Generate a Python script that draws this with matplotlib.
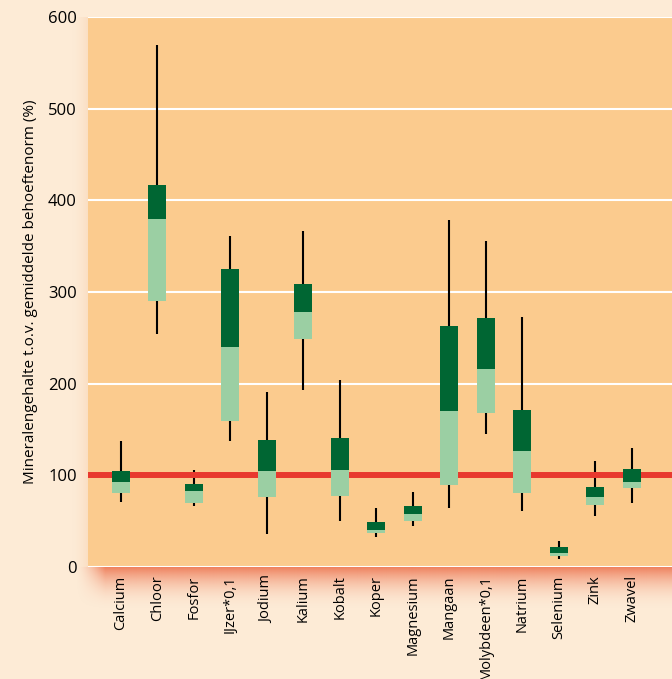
import numpy as np
import matplotlib
matplotlib.use('Agg')
import matplotlib.pyplot as plt
from matplotlib.colors import to_rgb

# data
mineralen = ['Calcium', 'Chloor', 'Fosfor', 'IJzer*0,1', 'Jodium', 'Kalium', 'Kobalt',
             'Koper', 'Magnesium', 'Mangaan', 'Molybdeen*0,1', 'Natrium', 'Selenium',
             'Zink', 'Zwavel']
minimum = [71, 254, 67, 137, 36, 193, 50, 33, 45, 64, 145, 61, 9, 56, 70]
kwartiel1 = [81, 290, 70, 159, 76, 249, 77, 37, 50, 89, 168, 81, 12, 68, 86]
mediaan = [93, 380, 83, 240, 105, 278, 106, 40, 58, 170, 216, 127, 15, 76, 93]
kwartiel3 = [105, 417, 91, 325, 139, 309, 141, 49, 67, 263, 272, 171, 22, 87, 107]
maximum = [137, 569, 106, 361, 191, 367, 204, 64, 82, 379, 356, 273, 28, 116, 130]
norm = 100

bg = '#fdebd6'
face = '#fbcb8e'
donker = '#006633'
licht = '#9bcfa3'
rood = '#e8392e'

plt.rcParams['font.family'] = ['Open Sans', 'DejaVu Sans']

fig = plt.figure(figsize=(6.72, 6.79), dpi=100, facecolor=bg)
W, H = 672, 679

# schaduw onder de grafiek (verloop, links zachter)
grad = fig.add_axes([75 / W, (H - 612) / H, 597 / W, 45 / H])
grad.set_zorder(0)
g = np.zeros((90, 600, 4))
g[:, :, :3] = to_rgb('#ee7c58')
verticaal = np.linspace(1.0, 0.0, 90)[:, None] ** 2.2
horizontaal = np.clip(np.linspace(0, 600 / 30, 600), 0, 1)[None, :] ** 1.5
g[:, :, 3] = verticaal * horizontaal * 0.95
grad.imshow(g, aspect='auto', extent=(0, 1, 0, 1), interpolation='bilinear')
grad.axis('off')

# schaduw links van de grafiek
grad2 = fig.add_axes([70 / W, (H - 567) / H, 18 / W, 550 / H])
grad2.set_zorder(0)
g2 = np.zeros((2, 100, 4))
g2[:, :, :3] = to_rgb('#f4b98a')
g2[:, :, 3] = np.linspace(0.0, 0.5, 100)[None, :] ** 2
grad2.imshow(g2, aspect='auto', extent=(0, 1, 0, 1))
grad2.axis('off')

ax = fig.add_axes([88 / W, (H - 567) / H, 584 / W, 550 / H])
ax.set_zorder(1)
ax.set_facecolor(face)

x = np.arange(len(mineralen))
breedte = 0.5

# whiskers
ax.vlines(x, minimum, maximum, color='black', linewidth=1.5, zorder=2)
# norm lijn
ax.axhline(norm, color=rood, linewidth=4.3, zorder=2.5)
# boxen: licht (Q1-mediaan), donker (mediaan-Q3)
ax.bar(x, np.array(mediaan) - np.array(kwartiel1), bottom=kwartiel1, width=breedte,
       color=licht, zorder=3)
ax.bar(x, np.array(kwartiel3) - np.array(mediaan), bottom=mediaan, width=breedte,
       color=donker, zorder=3)

ax.set_xlim(-0.9, 15.1)
ax.set_ylim(0, 600)
ax.set_yticks(range(0, 601, 100))
ax.grid(axis='y', color='white', linewidth=1.5, zorder=1)
ax.set_axisbelow(True)
for s in ax.spines.values():
    s.set_visible(False)

ax.set_xticks(x)
ax.set_xticklabels(mineralen, rotation=90, fontsize=10.5)
ax.tick_params(axis='both', length=0, pad=6)
ax.tick_params(axis='y', labelsize=12, pad=8)
ax.set_ylabel('Mineralengehalte t.o.v. gemiddelde behoeftenorm (%)', fontsize=11, labelpad=7)

fig.savefig('out.png', dpi=100, facecolor=bg)
